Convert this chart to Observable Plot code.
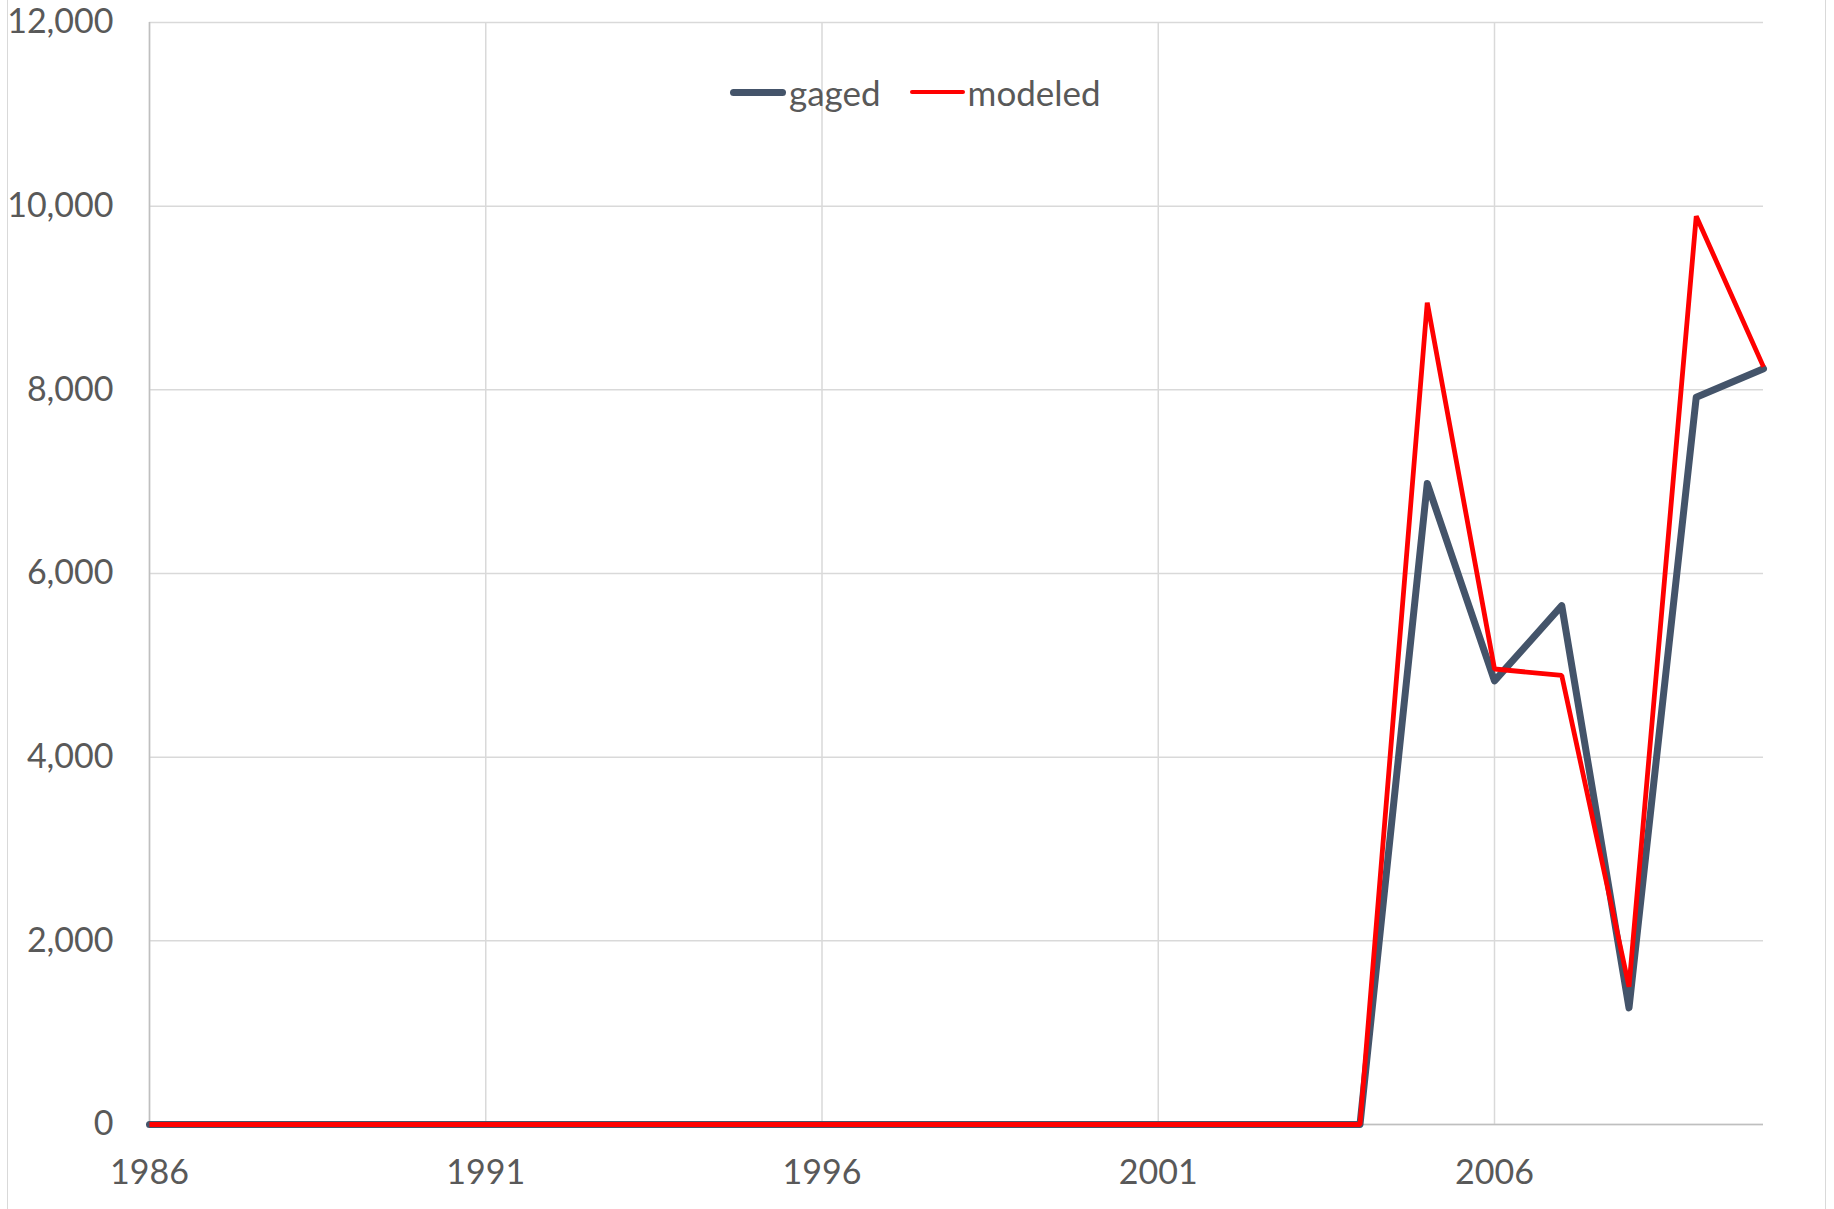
<!DOCTYPE html>
<html>
<head>
<meta charset="utf-8">
<script src="https://cdn.jsdelivr.net/npm/d3@7"></script>
<script src="https://cdn.jsdelivr.net/npm/@observablehq/plot@0.6"></script>
<style>
  html, body { margin: 0; padding: 0; background: #fff; overflow: hidden; }
  #wrap { position: relative; width: 1834px; height: 1209px; font-family: Lato, "Noto Sans", sans-serif; }
  #border { position: absolute; left: 7px; top: -2px; width: 1817px; height: 1213px; border-left: 1.5px solid #d9d9d9; border-right: 1.5px solid #d9d9d9; pointer-events: none; }
  #legend { position: absolute; top: 71px; left: 730px; display: flex; align-items: center; font-size: 35px; color: #595959; }
  .item { display: flex; align-items: center; }
  .sw { display: inline-block; border-radius: 4px; margin-right: 3px; }
</style>
</head>
<body>
<div id="wrap">
  <div id="chart"></div>
  <div id="border"></div>
  <div id="legend"></div>
</div>
<script>
const years = [1986,1987,1988,1989,1990,1991,1992,1993,1994,1995,1996,1997,1998,1999,2000,2001,2002,2003,2004,2005,2006,2007,2008,2009,2010];
const gaged   = [0,0,0,0,0,0,0,0,0,0,0,0,0,0,0,0,0,0,0,6980,4830,5650,1270,7920,8230];
const modeled = [0,0,0,0,0,0,0,0,0,0,0,0,0,0,0,0,0,0,0,8950,4960,4890,1500,9890,8250];
const seriesNames = ["gaged", "modeled"];
const seriesColors = ["#44546a", "#ff0000"];
const seriesWidths = [7, 4.8];
const xTicks = [1986, 1991, 1996, 2001, 2006];
const yTicks = [0, 2000, 4000, 6000, 8000, 10000, 12000];

const gagedRows = years.map((y, i) => ({year: y, value: gaged[i]}));
const modeledRows = years.map((y, i) => ({year: y, value: modeled[i]}));

const chart = Plot.plot({
  width: 1834,
  height: 1209,
  marginLeft: 149,
  marginRight: 71,
  marginTop: 22,
  marginBottom: 85,
  style: { fontFamily: "Lato, 'Noto Sans', sans-serif", fontSize: "34px", color: "#595959", background: "#fff" },
  x: { domain: [1986, 2010] },
  y: { domain: [0, 12000] },
  marks: [
    Plot.gridY(yTicks, { stroke: "#d9d9d9", strokeOpacity: 1, strokeWidth: 1.5 }),
    Plot.gridX(xTicks, { stroke: "#d9d9d9", strokeOpacity: 1, strokeWidth: 1.5 }),
    Plot.ruleX([1986], { stroke: "#bfbfbf", strokeWidth: 1.5 }),
    Plot.ruleY([0], { stroke: "#bfbfbf", strokeWidth: 1.5 }),
    Plot.axisX(xTicks, { tickSize: 0, tickPadding: 35, tickFormat: d => String(d), fill: "#595959", fontSize: 34, label: null }),
    Plot.axisY(yTicks, { tickSize: 0, tickPadding: 36, tickFormat: d3.format(","), fill: "#595959", fontSize: 34, label: null }),
    Plot.line(gagedRows, { x: "year", y: "value", stroke: seriesColors[0], strokeWidth: seriesWidths[0], strokeLinejoin: "round", strokeLinecap: "round" }),
    Plot.line(modeledRows, { x: "year", y: "value", stroke: seriesColors[1], strokeWidth: seriesWidths[1], strokeLinejoin: "miter", strokeLinecap: "butt" })
  ]
});
document.getElementById("chart").appendChild(chart);

const legend = document.getElementById("legend");
seriesNames.forEach((name, i) => {
  const item = document.createElement("div");
  item.className = "item";
  if (i > 0) item.style.marginLeft = "29px";
  const sw = document.createElement("span");
  sw.className = "sw";
  sw.style.width = (i === 0 ? 56 : 55) + "px";
  sw.style.height = seriesWidths[i] + "px";
  sw.style.background = seriesColors[i];
  const label = document.createElement("span");
  label.textContent = name;
  item.appendChild(sw);
  item.appendChild(label);
  legend.appendChild(item);
});
</script>
</body>
</html>
